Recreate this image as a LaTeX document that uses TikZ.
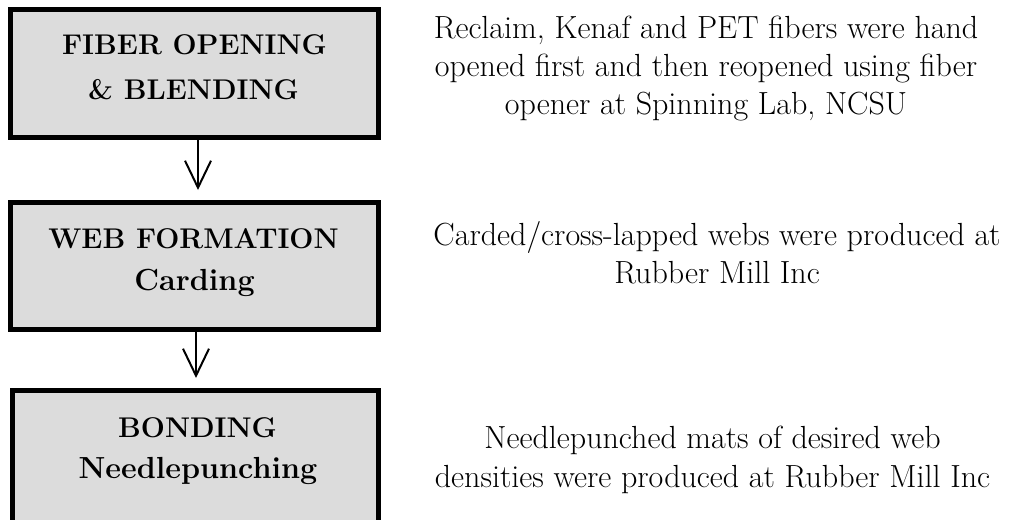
\documentclass[tikz,border=0pt]{standalone}
\usetikzlibrary{arrows.meta}
\definecolor{boxgray}{HTML}{DCDCDC}
\tikzset{
  stagebox/.style={draw=black, line width=5pt, fill=boxgray, inner sep=0pt},
  capline/.style={anchor=base, inner sep=0pt, font=\fontsize{28.5}{34}\selectfont\bfseries},
  lowline/.style={anchor=base, inner sep=0pt, font=\fontsize{30.5}{36}\selectfont\bfseries},
  descline/.style={anchor=base, inner sep=0pt, font=\fontsize{32}{38}\selectfont},
  flowarrow/.style={line width=2pt, -{Straight Barb[length=27pt, width=26pt, line width=2pt]}}
}
\begin{document}
\begin{tikzpicture}[x=1pt, y=-1pt]
\useasboundingbox (0,0) rectangle (1016,519);
\clip (0,0) rectangle (1016,519);
% boxes
\node[stagebox, minimum width=368pt, minimum height=128pt] (box1) at (194.5,73.5) {};
\node[stagebox, minimum width=368pt, minimum height=127pt] (box2) at (194.5,266) {};
\node[stagebox, minimum width=366pt, minimum height=153pt] (box3) at (195.5,467) {};
% box texts
\node[capline] (t1a) at (194.5,55) {FIBER OPENING};
\node[capline] (t1b) at (193.5,99) {\& BLENDING};
\node[capline] (t2a) at (193.5,248) {WEB FORMATION};
\node[lowline] (t2b) at (194.5,290) {Carding};
\node[capline] (t3a) at (197.5,437) {BONDING};
\node[lowline] (t3b) at (198,478) {Needlepunching};
% arrows
\draw[flowarrow] ([xshift=3.5pt]box1.south) -- ([xshift=3.5pt, yshift=10pt]box2.north);
\draw[flowarrow] ([xshift=1.5pt]box2.south) -- ([xshift=0.5pt, yshift=10pt]box3.north);
% descriptions
\node[descline] (d1a) at (706,38) {Reclaim, Kenaf and PET fibers were hand};
\node[descline] (d1b) at (706,76) {opened first and then reopened using fiber};
\node[descline] (d1c) at (706,114) {opener at Spinning Lab, NCSU};
\node[descline] (d2a) at (717,245) {Carded/cross-lapped webs were produced at};
\node[descline] (d2b) at (717,283) {Rubber Mill Inc};
\node[descline] (d3a) at (712.5,448) {Needlepunched mats of desired web};
\node[descline] (d3b) at (712.5,487) {densities were produced at Rubber Mill Inc};
\end{tikzpicture}
\end{document}
